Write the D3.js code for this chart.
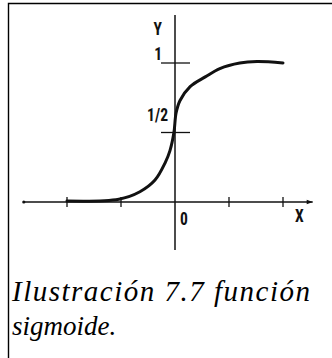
<!DOCTYPE html>
<html>
<head>
<meta charset="utf-8">
<script src="https://cdn.jsdelivr.net/npm/d3@7"></script>
<style>
  html, body { margin: 0; padding: 0; background: #fff; }
  svg { display: block; }
  .cap { font-family: "Liberation Serif", serif; font-style: italic; font-size: 27px; }
  .lab { font-family: "Roboto Condensed", "Liberation Sans Narrow", sans-serif; font-weight: bold; font-size: 19px; }
</style>
</head>
<body>
<svg id="chart" width="332" height="358"></svg>
<script>
// Sigmoid curve, sampled as drawn (x in axis units, y between 0 and 1)
const curveX = [-2.0, -1.04, -0.65, -0.37, -0.185, -0.093, -0.02, 0.02, 0.093, 0.28, 0.56, 0.83, 1.2, 1.52, 2.0];
const curveY = [0.007, 0.02, 0.074, 0.158, 0.28, 0.37, 0.5, 0.64, 0.73, 0.83, 0.90, 0.96, 1.0, 1.01, 1.0];

// Axis marks
const xTicks = [-2, -1, 1, 2];
const yTicks = [0.5, 1];
const yTickLabels = ["1/2", "1"];
const captionLines = ["Ilustración 7.7 función", "sigmoide."];

const svg = d3.select("#chart");

// Frame (left and top edges)
svg.append("path")
  .attr("d", "M8.5,358 L8.5,3.5 L332,3.5")
  .attr("fill", "none")
  .attr("stroke", "#000")
  .attr("stroke-width", 1.4);

const x = d3.scaleLinear().domain([-2, 2]).range([67, 283]);
const y = d3.scaleLinear().domain([0, 1]).range([202, 63]);

const ink = "#111";
const g = svg.append("g");

// x axis with arrow end
g.append("line")
  .attr("x1", x(-2.8)).attr("x2", x(2.55))
  .attr("y1", y(0)).attr("y2", y(0))
  .attr("stroke", ink).attr("stroke-width", 1.4);
g.append("circle")
  .attr("cx", x(-2.8)).attr("cy", y(0)).attr("r", 1.6).attr("fill", ink);
g.append("path")
  .attr("d", `M${x(2.55)},${y(0)} l-6,-2.2 l0,4.4 z`)
  .attr("fill", ink);

// y axis
g.append("line")
  .attr("x1", x(0)).attr("x2", x(0))
  .attr("y1", 15).attr("y2", 250)
  .attr("stroke", ink).attr("stroke-width", 1.5);

// x ticks
g.selectAll(".xt").data(xTicks).join("line")
  .attr("class", "xt")
  .attr("x1", d => x(d)).attr("x2", d => x(d))
  .attr("y1", y(0) - 5).attr("y2", y(0) + 5)
  .attr("stroke", ink).attr("stroke-width", 1.3);

// y ticks
g.selectAll(".yt").data(yTicks).join("line")
  .attr("class", "yt")
  .attr("x1", x(0) - 14).attr("x2", x(0) + 15)
  .attr("y1", d => y(d)).attr("y2", d => y(d))
  .attr("stroke", ink).attr("stroke-width", 1.3);

// the sigmoid
const pts = curveX.map((v, i) => [v, curveY[i]]);
g.append("path")
  .datum(pts)
  .attr("fill", "none")
  .attr("stroke", ink)
  .attr("stroke-width", 3)
  .attr("stroke-linecap", "round")
  .attr("d", d3.line().x(d => x(d[0])).y(d => y(d[1])).curve(d3.curveCatmullRom.alpha(0.5)));

// axis labels: bold, condensed lettering
function lab(tx, ty, s, anchor) {
  g.append("text")
    .attr("class", "lab")
    .attr("transform", `translate(${tx},${ty}) scale(0.82,1)`)
    .attr("text-anchor", anchor || "start")
    .attr("fill", ink)
    .text(s);
}

lab(x(0) - 13, 35, "Y", "end");
yTicks.forEach((d, i) => {
  lab(x(0) - (d === 1 ? 13 : 7), y(d) - (d === 1 ? 3 : 12), yTickLabels[i], "end");
});
lab(x(0) + 5, 225, "0");
lab(x(2) + 12, 222, "X");

// caption below the figure; the first line is justified to the full width
const capTexts = svg.selectAll(".cap").data(captionLines).join("text")
  .attr("class", "cap")
  .attr("x", 12)
  .attr("y", (d, i) => 301 + i * 34)
  .attr("fill", "#000")
  .text(d => d);
capTexts.filter((d, i) => i === 0)
  .style("font-size", "29px")
  .attr("textLength", 298)
  .attr("lengthAdjust", "spacing");
</script>
</body>
</html>
